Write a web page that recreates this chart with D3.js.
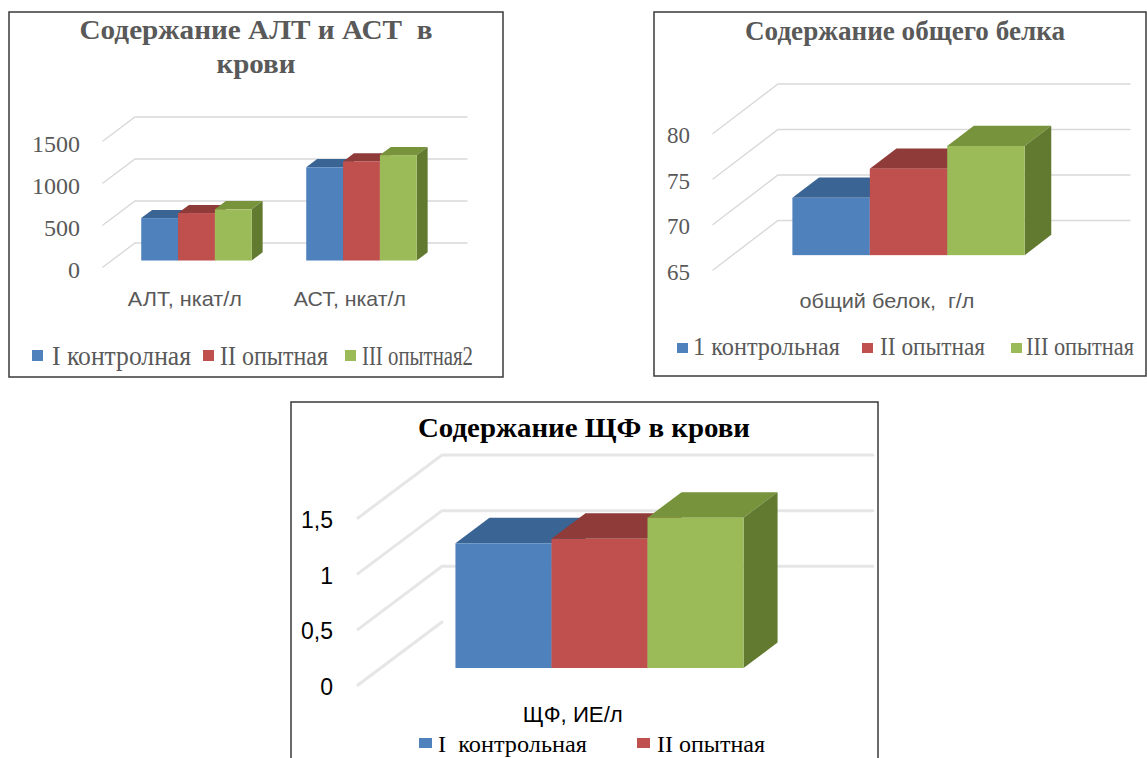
<!DOCTYPE html>
<html>
<head>
<meta charset="utf-8">
<script src="https://cdn.jsdelivr.net/npm/d3@7"></script>
<style>
  html, body { margin: 0; padding: 0; background: #ffffff; }
  svg { display: block; }
  text { white-space: pre; }
</style>
</head>
<body>
<svg id="chart" width="1147" height="758"></svg>
<script>
// ---------------- DATA ----------------
const altAstTitle = ["Содержание АЛТ и АСТ  в", "крови"];
const altAstCategories = ["АЛТ, нкат/л", "АСТ, нкат/л"];
const altAstSeries = ["I контролная", "II опытная", "III опытная2"];
const altAstValues = [[505, 565, 610], [1110, 1180, 1255]];
const altAstTicks = [0, 500, 1000, 1500];

const proteinTitle = ["Содержание общего белка"];
const proteinCategories = ["общий белок,  г/л"];
const proteinSeries = ["1 контрольная", "II опытная", "III опытная"];
const proteinValues = [[71.3, 74.5, 77.0]];
const proteinTicks = [65, 70, 75, 80];

const alpTitle = ["Содержание ЩФ в крови"];
const alpCategories = ["ЩФ, ИЕ/л"];
const alpSeries = ["I  контрольная", "II опытная", "III опытная"];
const alpValues = [[1.12, 1.16, 1.35]];
const alpTicks = [0, 0.5, 1, 1.5];

// ---------------- STYLE ----------------
const frontColors = ["#4F81BD", "#C0504D", "#9BBB59"];
const topColors   = ["#3A6494", "#8E3B39", "#77933C"];
const sideColors  = ["#30527C", "#7A302E", "#627A30"];
const SERIF = "'Liberation Serif', 'Times New Roman', serif";
const SANS = "'Liberation Sans', Arial, sans-serif";

const svg = d3.select("#chart");
const commaFmt = d3.formatLocale({decimal: ",", thousands: " ", grouping: [3], currency: ["", ""]}).format("~g");

function txt(g, str, x, y, o) {
  const t = g.append("text")
    .attr("x", x).attr("y", y)
    .attr("text-anchor", o.anchor || "start")
    .attr("font-family", o.family)
    .attr("font-size", o.size)
    .attr("font-weight", o.weight || "normal")
    .attr("fill", o.fill)
    .text(str);
  if (o.baseline) t.attr("dominant-baseline", o.baseline);
  if (o.width) t.attr("textLength", o.width).attr("lengthAdjust", "spacingAndGlyphs");
  return t;
}

function drawPanel(cfg) {
  const g = svg.append("g");
  // frame
  g.append("rect")
    .attr("x", cfg.box[0]).attr("y", cfg.box[1])
    .attr("width", cfg.box[2] - cfg.box[0]).attr("height", cfg.box[3] - cfg.box[1])
    .attr("fill", "#ffffff").attr("stroke", "#3a3a3a").attr("stroke-width", 1.5);

  // title
  cfg.title.lines.forEach((ln, i) => {
    txt(g, ln, cfg.title.x, cfg.title.ys[i], {anchor: "middle", family: SERIF, size: cfg.title.size,
      weight: "bold", fill: cfg.title.fill, width: cfg.title.widths[i]});
  });

  const [dx, dy] = cfg.D;
  const y = d3.scaleLinear().domain(cfg.yDomain).range(cfg.yRange); // front plane (depth 0)

  // gridlines (3D: diagonal on side wall + horizontal on back wall)
  cfg.ticks.forEach(v => {
    const yf = y(v);
    const p = d3.path();
    p.moveTo(cfg.frontX0, yf);
    p.lineTo(cfg.frontX0 + dx, yf + dy);
    if (!(cfg.hideFloorBack && v === cfg.yDomain[0])) p.lineTo(cfg.backX1, yf + dy);
    g.append("path").attr("d", p.toString()).attr("fill", "none")
      .attr("stroke", cfg.gridColor).attr("stroke-width", cfg.gridWidth)
      .attr("stroke-linecap", "round");
  });

  // tick labels
  cfg.ticks.forEach(v => {
    txt(g, cfg.fmt(v), cfg.tickX, y(v) + cfg.tickDy, {anchor: "end", family: cfg.tickFamily,
      size: cfg.tickSize, fill: cfg.textFill, baseline: "central"});
  });

  // bars
  const x0 = d3.scaleBand().domain(cfg.categories).range(cfg.bandRange)
    .paddingInner(cfg.paddingInner).paddingOuter(cfg.paddingOuter);
  const x1 = d3.scaleBand().domain(cfg.series).range([0, x0.bandwidth()]).padding(0);
  const bdx = dx * cfg.bd, bdy = dy * cfg.bd;
  const yBase = y(cfg.yDomain[0]) + dy * cfg.d0;
  cfg.categories.forEach((c, ci) => {
    cfg.series.forEach((s, si) => {
      const v = cfg.values[ci][si];
      const xl = x0(c) + x1(s), w = x1.bandwidth(), xr = xl + w;
      const yt = y(v) + dy * cfg.d0;
      g.append("polygon")
        .attr("points", [[xl, yt], [xr, yt], [xr + bdx, yt + bdy], [xl + bdx, yt + bdy]].join(" "))
        .attr("fill", topColors[si]);
      g.append("polygon")
        .attr("points", [[xr, yt], [xr + bdx, yt + bdy], [xr + bdx, yBase + bdy], [xr, yBase]].join(" "))
        .attr("fill", sideColors[si]);
      g.append("rect").attr("x", xl).attr("y", yt).attr("width", w).attr("height", yBase - yt)
        .attr("fill", frontColors[si]);
    });
    // category label
    txt(g, c, x0(c) + x0.bandwidth() / 2 - dx * cfg.d0 + cfg.catDx, cfg.catY,
      {anchor: "middle", family: SANS, size: cfg.catSize, fill: cfg.textFill, width: cfg.catWidths[ci]});
  });

  // legend (only the entries visible inside the picture)
  cfg.legend.forEach((L, i) => {
    g.append("rect").attr("x", L.sx).attr("y", L.sy).attr("width", cfg.legendSq[0]).attr("height", cfg.legendSq[1])
      .attr("fill", frontColors[i]);
    txt(g, cfg.series[i], L.tx, L.ty, {family: SERIF, size: cfg.legendSize, fill: cfg.textFill, width: L.w});
  });
}

// ---------------- PANEL 1 ----------------
drawPanel({
  box: [9, 12, 503, 377],
  title: {lines: altAstTitle, x: 256, ys: [39, 73], widths: [353, 79], size: 27, fill: "#595959"},
  D: [32, -24], yDomain: [0, 1500], yRange: [267, 141],
  ticks: altAstTicks, frontX0: 103, backX1: 467,
  gridColor: "#d9d9d9", gridWidth: 1.4,
  fmt: d3.format("d"), tickX: 80, tickDy: 3, tickFamily: SERIF, tickSize: 24, textFill: "#595959",
  categories: altAstCategories, series: altAstSeries, values: altAstValues,
  bandRange: [114, 444], paddingInner: 0.33, paddingOuter: 0.165, d0: 0.27, bd: 0.34,
  catY: 306, catSize: 21, catDx: -3, catWidths: [114, 112],
  legendSq: [11, 11], legendSize: 27,
  legend: [
    {sx: 32, sy: 350, tx: 52, ty: 365, w: 139},
    {sx: 203, sy: 350, tx: 220, ty: 365, w: 108},
    {sx: 345, sy: 350, tx: 362, ty: 365, w: 111}
  ]
});

// ---------------- PANEL 2 ----------------
drawPanel({
  box: [654, 12, 1146, 376],
  title: {lines: proteinTitle, x: 905, ys: [40], widths: [320], size: 27, fill: "#595959"},
  D: [65, -49.5], yDomain: [65, 80], yRange: [270, 133.5],
  ticks: proteinTicks, frontX0: 713, backX1: 1130,
  gridColor: "#d9d9d9", gridWidth: 1.4,
  fmt: d3.format("d"), tickX: 690, tickDy: 2, tickFamily: SERIF, tickSize: 23, textFill: "#595959",
  categories: proteinCategories, series: proteinSeries, values: proteinValues,
  bandRange: [732, 1085], paddingInner: 0, paddingOuter: 0.26, d0: 0.3, bd: 0.41,
  catY: 308, catSize: 20, catDx: -2, catWidths: [175],
  legendSq: [11, 10], legendSize: 25,
  legend: [
    {sx: 677, sy: 343, tx: 693, ty: 355, w: 147},
    {sx: 862, sy: 343, tx: 880, ty: 355, w: 105},
    {sx: 1011, sy: 343, tx: 1026, ty: 355, w: 108}
  ]
});

// ---------------- PANEL 3 ----------------
drawPanel({
  box: [291, 402, 878, 780],
  title: {lines: alpTitle, x: 584, ys: [437], widths: [332], size: 28, fill: "#000000"},
  D: [84, -63], yDomain: [0, 1.5], yRange: [685, 518],
  ticks: alpTicks, frontX0: 358, backX1: 873, hideFloorBack: true,
  gridColor: "#e6e6e6", gridWidth: 3,
  fmt: commaFmt, tickX: 333, tickDy: 2, tickFamily: SANS, tickSize: 23, textFill: "#000000",
  categories: alpCategories, series: alpSeries, values: alpValues,
  bandRange: [384, 815], paddingInner: 0, paddingOuter: 0.248, d0: 0.27, bd: 0.405,
  catY: 722, catSize: 22, catDx: -4, catWidths: [100],
  legendSq: [13, 10], legendSize: 24,
  legend: [
    {sx: 419, sy: 738, tx: 438, ty: 752, w: 149},
    {sx: 637, sy: 738, tx: 657, ty: 752, w: 108}
  ]
});
</script>
</body>
</html>
